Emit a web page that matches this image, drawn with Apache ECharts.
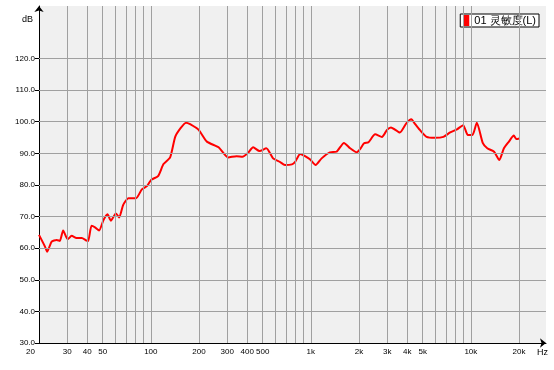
<!DOCTYPE html>
<html>
<head>
<meta charset="utf-8">
<script src="https://cdn.jsdelivr.net/npm/echarts@6/dist/echarts.min.js"></script>
<style>
html,body{margin:0;padding:0;background:#fff;}
#c{width:554px;height:370px;}
</style>
</head>
<body>
<div id="c"></div>
<script>
// Frequencies (Hz) and sensitivity (dB)
const freqs = [20, 21.8, 22.5, 24, 25.8, 27, 28.3, 30.2, 32, 34.3, 37, 39.6, 40.6, 42.6, 44.8, 47.5, 50.6, 53.6, 56.2, 60.5, 63.4, 67.2, 72.4, 80.8, 87.9, 94.9, 100.4, 111, 120, 132, 142, 153, 166, 176, 199, 224, 265, 304, 343, 374, 406, 436, 478, 527, 581, 640, 689, 762, 798, 858, 920, 987, 1072, 1168, 1315, 1446, 1611, 1760, 1937, 2030, 2152, 2292, 2523, 2783, 2993, 3168, 3600, 3950, 4250, 4450, 4800, 5290, 5965, 6740, 7430, 8200, 8960, 9580, 10230, 10900, 11890, 12670, 13980, 15070, 16100, 17300, 18560, 19270, 20120];
const sensitivity = [64.2, 60.5, 58.9, 62.1, 62.6, 62.3, 65.6, 62.8, 63.9, 63.2, 63.2, 62.4, 62.3, 67.1, 66.6, 65.6, 68.9, 70.7, 68.7, 71.0, 69.7, 73.7, 75.8, 75.8, 78.6, 79.7, 81.6, 82.8, 86.6, 88.7, 95.2, 97.9, 99.7, 99.2, 97.4, 93.7, 91.9, 88.7, 89.1, 88.9, 90.2, 91.9, 90.7, 91.6, 88.4, 87.3, 86.3, 86.5, 87.3, 89.8, 89.1, 88.1, 86.3, 88.4, 90.3, 90.5, 93.3, 91.6, 90.3, 91.3, 93.2, 93.5, 96.0, 95.2, 97.4, 98.2, 96.6, 99.5, 100.8, 99.5, 97.4, 95.2, 94.9, 95.2, 96.6, 97.6, 98.9, 95.8, 95.8, 99.7, 93.2, 91.6, 90.5, 87.9, 91.6, 93.7, 95.6, 94.5, 94.7];
const seriesName = '01 灵敏度(L)';

// Tick labels
const xTickLabels = [20, 30, 40, 50, 100, 200, 300, 400, 500, 1000, 2000, 3000, 4000, 5000, 10000, 20000];
const xGridValues = [30, 40, 50, 60, 70, 80, 90, 100, 200, 300, 400, 500, 600, 700, 800, 900, 1000, 2000, 3000, 4000, 5000, 6000, 7000, 8000, 9000, 10000, 20000];
const yTickLabels = [30, 40, 50, 60, 70, 80, 90, 100, 110, 120];
const yGridValues = [40, 50, 60, 70, 80, 90, 100, 110, 120];

const chart = echarts.init(document.getElementById('c'), null, {renderer: 'canvas'});
const font = 'Liberation Sans, Arial, sans-serif';

chart.setOption({
  animation: false,
  backgroundColor: '#ffffff',
  textStyle: {fontFamily: font},
  grid: {left: 39, right: 8, top: 6, bottom: 27, show: true, backgroundColor: '#f0f0f0', borderWidth: 0},
  legend: {
    right: 15, top: 14,
    data: [seriesName],
    icon: 'rect', itemWidth: 6, itemHeight: 11,
    backgroundColor: '#ffffff', borderColor: '#000000', borderWidth: 1, borderRadius: 0,
    padding: [1, 3, 1, 3],
    textStyle: {fontSize: 11, color: '#000', fontFamily: font},
    selectedMode: false
  },
  xAxis: {
    type: 'log', logBase: 10, min: 20, max: 29500,
    axisLine: {show: true, lineStyle: {color: '#000', width: 1}, symbol: ['none', 'arrow'], symbolSize: [7, 6]},
    axisTick: {show: false},
    splitLine: {show: false},
    minorTick: {show: false},
    axisLabel: {
      show: true,
      customValues: xTickLabels,
      margin: 5,
      fontSize: 8, color: '#000', fontFamily: font,
      formatter: function (v) {
        if (Math.abs(v - 20) < 0.01) return '{l|20}';
        if (v >= 1000) return Math.round(v / 1000) + 'k';
        return String(Math.round(v));
      },
      rich: {l: {fontSize: 8, color: '#000', padding: [0, 17, 0, 0], fontFamily: font}}
    }
  },
  yAxis: {
    type: 'value', min: 30, max: 136.6,
    axisLine: {show: true, lineStyle: {color: '#000', width: 1}, symbol: ['none', 'arrow'], symbolSize: [7, 6]},
    axisTick: {show: true, length: 4, lineStyle: {color: '#000'}, customValues: yTickLabels},
    splitLine: {show: false},
    axisLabel: {
      customValues: yTickLabels,
      margin: 4, fontSize: 8, color: '#000', fontFamily: font,
      formatter: function (v) { return v.toFixed(1); }
    }
  },
  graphic: [
    {type: 'text', left: 22, top: 15, style: {text: 'dB', fontSize: 9, fill: '#000', fontFamily: font}},
    {type: 'text', left: 537, top: 348, style: {text: 'Hz', fontSize: 9, fill: '#000', fontFamily: font}}
  ],
  series: [
    {
      type: 'line', name: 'grid', data: [], z: 1, silent: true,
      markLine: {
        silent: true, animation: false,
        symbol: ['none', 'none'],
        label: {show: false},
        lineStyle: {color: '#a0a0a0', width: 1, type: 'solid'},
        emphasis: {disabled: true},
        data: xGridValues.map(f => ({xAxis: f})).concat(yGridValues.map(v => ({yAxis: v})))
      }
    },
    {
      type: 'line', name: seriesName, z: 3,
      data: freqs.map((f, i) => [f, sensitivity[i]]),
      showSymbol: false, symbol: 'none',
      smooth: 0.2,
      lineStyle: {color: '#ff0000', width: 2},
      itemStyle: {color: '#ff0000'}
    }
  ]
});
</script>
</body>
</html>
